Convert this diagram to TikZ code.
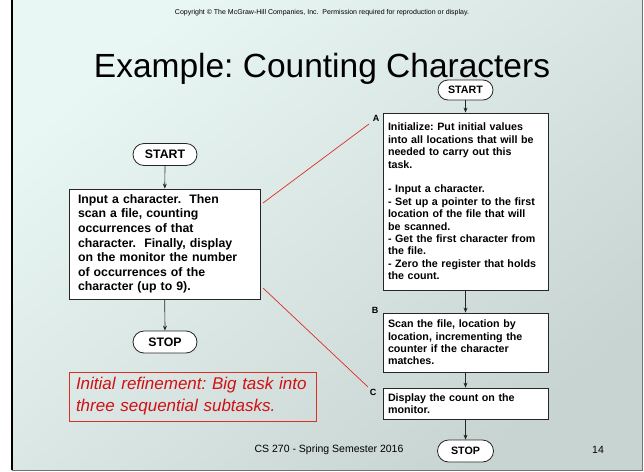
\documentclass[tikz,border=0pt]{standalone}
\usepackage{fontspec}
\setmainfont{Liberation Sans}
\usetikzlibrary{arrows.meta,calc}
\definecolor{redline}{RGB}{222,45,35}
\definecolor{redtext}{RGB}{210,16,20}
\definecolor{bgA}{RGB}{233,247,244}
\definecolor{bgB}{RGB}{200,212,210}
\definecolor{frameg}{RGB}{110,115,115}
\frenchspacing
\begin{document}
\begin{tikzpicture}[x=1pt,y=-1pt,
  box/.style={draw=black!85, fill=white, line width=0.8pt, align=left, inner ysep=2pt},
  bigtext/.style={font=\bfseries\fontsize{12.3}{14.6}\selectfont},
  smalltext/.style={font=\bfseries\fontsize{10.7}{12.4}\selectfont},
  term/.style={draw=black!85, fill=white, line width=0.8pt, inner sep=0pt, font=\bfseries},
  arr/.style={-{Stealth[length=5pt,width=4pt]}, line width=0.7pt, draw=black!85},
  redl/.style={draw=redline, line width=0.7pt},
  lbl/.style={font=\bfseries\fontsize{9}{10}\selectfont, inner sep=0pt}]
\useasboundingbox (0,0) rectangle (644,471);
\fill[white] (0,0) rectangle (644,471);
\shade[shading=axis, top color=bgA, bottom color=bgB, shading angle=40] (12,0) rectangle (642,470);
\draw[frameg, line width=1pt] (12,470) -- (642,470) -- (642,0);
\draw[black, line width=2pt] (12,0) -- (12,470);

% headings
\node[font=\fontsize{7}{8}\selectfont, inner sep=0pt] (copy) at (322,13) {Copyright © The McGraw-Hill Companies, Inc.\ \ Permission required for reproduction or display.};
\node[font=\fontsize{33.5}{36}\selectfont, inner sep=0pt, anchor=base] (title) at (322,77) {Example: Counting Characters};

% left flowchart
\node[term, minimum width=64pt, minimum height=22pt, rounded corners=11pt, font=\bfseries\fontsize{12.3}{14}\selectfont] (start1) at (165,154.5) {START};
\node[box, bigtext, text width=173pt, minimum height=110pt, inner xsep=9pt] (task) at (164.5,244)
{Input a character.\ \ Then\\ scan a file, counting\\ occurrences of that\\ character.\ \ Finally, display\\ on the monitor the number\\ of occurrences of the\\ character (up to 9).};
\node[term, minimum width=64pt, minimum height=22pt, rounded corners=11pt, font=\bfseries\fontsize{12.3}{14}\selectfont] (stop1) at (165,342) {STOP};
\draw[arr] (start1) -- (task);
\draw[arr] (task) -- (stop1);

% note
\node[draw=redline, line width=0.8pt, align=left, text width=233pt, minimum height=49pt, inner xsep=7pt,
  text=redtext, font=\itshape\fontsize{17}{22}\selectfont] (note) at (192.5,396.5)
{Initial refinement: Big task into\\ three sequential subtasks.};

% right flowchart
\node[term, minimum width=55pt, minimum height=20pt, rounded corners=10pt, font=\bfseries\fontsize{10.7}{12}\selectfont] (start2) at (465.5,90) {START};
\node[box, smalltext, text width=155pt, minimum height=177pt, inner xsep=5pt] (boxA) at (465.5,201.5)
{Initialize: Put initial values\\ into all locations that will be\\ needed to carry out this\\ task.\\[12.4pt] - Input a character.\\ - Set up a pointer to the first\\ location of the file that will\\ be scanned.\\ - Get the first character from\\ the file.\\ - Zero the register that holds\\ the count.};
\node[box, smalltext, text width=155pt, minimum height=59pt, inner xsep=5pt] (boxB) at (465.5,342.5)
{Scan the file, location by\\ location, incrementing the\\ counter if the character\\ matches.};
\node[box, smalltext, text width=155pt, minimum height=31pt, inner xsep=5pt] (boxC) at (465.5,403.5)
{Display the count on the\\ monitor.};
\node[term, minimum width=56pt, minimum height=22pt, rounded corners=11pt, font=\bfseries\fontsize{10.7}{12}\selectfont] (stop2) at (465.5,451) {STOP};
\draw[arr] (start2) -- (boxA);
\draw[arr] (boxA) -- (boxB);
\draw[arr] (boxB) -- (boxC);
\draw[arr] (boxC) -- (stop2);

% labels
\node[lbl] (la) at (376,118) {A};
\node[lbl] (lb) at (375,310) {B};
\node[lbl] (lc) at (373,392) {C};

% red refinement lines
\coordinate (r1) at (263,203);
\coordinate (r2) at (369,124);
\coordinate (r3) at (263,288);
\coordinate (r4) at (368,387);
\draw[redl] (r1) -- (r2);
\draw[redl] (r3) -- (r4);

% footer
\node[font=\fontsize{10.5}{12}\selectfont, inner sep=0pt] (foot) at (329,450) {CS 270 - Spring Semester 2016};
\node[font=\fontsize{10.5}{12}\selectfont, inner sep=0pt] (page) at (598,450) {14};
\end{tikzpicture}
\end{document}
